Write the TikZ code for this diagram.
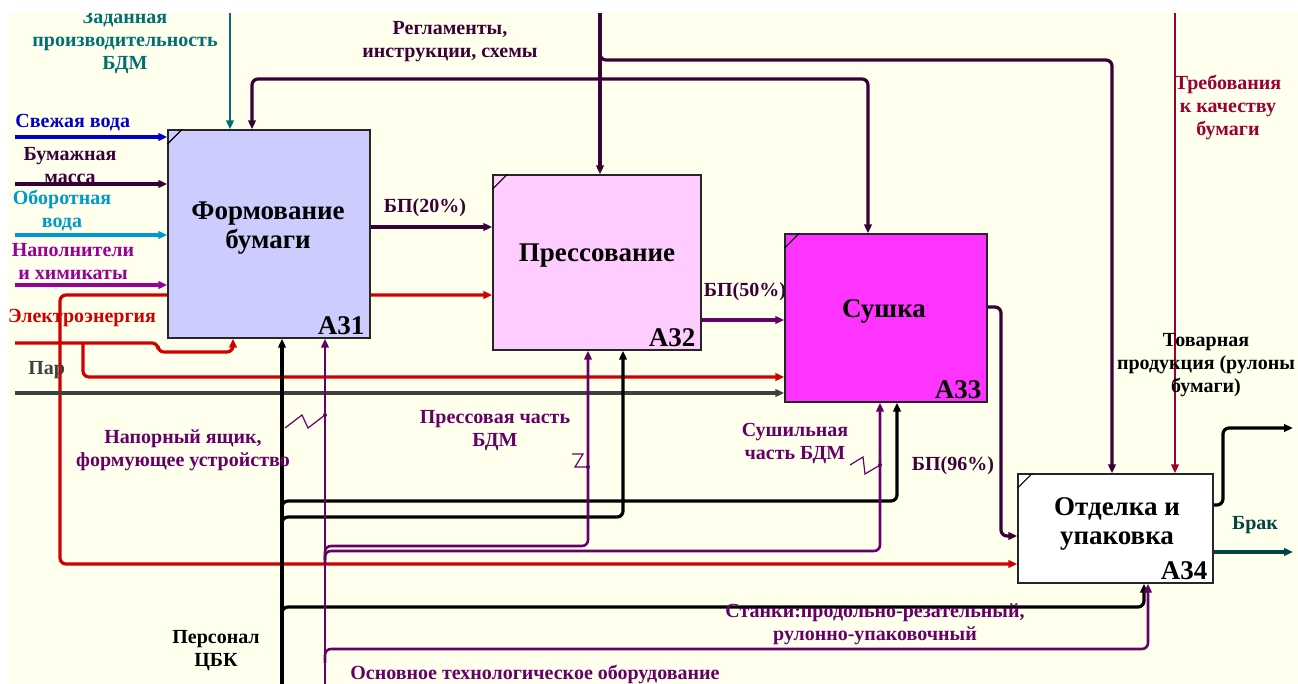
\documentclass[tikz,border=0pt]{standalone}
\usepackage{fontspec}
\setmainfont{Liberation Serif}
\usetikzlibrary{arrows.meta,calc}
\pgfdeclarelayer{bg}
\pgfdeclarelayer{wires}
\pgfdeclarelayer{top}
\pgfsetlayers{bg,wires,main,top}

\definecolor{paper}{HTML}{FFFFEE}
\definecolor{cTeal}{HTML}{007070}
\definecolor{cPlum}{HTML}{3A0038}
\definecolor{cBlue}{HTML}{0000CC}
\definecolor{cCyan}{HTML}{0099CC}
\definecolor{cViolet}{HTML}{990099}
\definecolor{cRed}{HTML}{D00000}
\definecolor{cGray}{HTML}{404040}
\definecolor{cMech}{HTML}{660066}
\definecolor{cCrimson}{HTML}{990033}
\definecolor{cReject}{HTML}{004444}
\definecolor{fillA}{HTML}{CCCCFF}
\definecolor{fillB}{HTML}{FFCCFF}
\definecolor{fillC}{HTML}{FF33FF}

\tikzset{
  tip/.tip={Triangle[length=4.5pt,width=3.8pt]},
  wire/.style={line width=1.6pt, rounded corners=3pt},
  arrowwire/.style={wire, -tip},
  thinwire/.style={line width=1.1pt, rounded corners=3pt},
  thinarrow/.style={thinwire, -tip},
  func/.style={draw=black!85, line width=0.7pt, inner sep=0pt},
  ttl/.style={font=\fontsize{13.5}{14.5}\selectfont\bfseries, align=center, inner sep=0pt},
  num/.style={font=\fontsize{13.5}{14}\selectfont\bfseries, inner sep=0pt, anchor=south east},
  lbl/.style={font=\fontsize{10}{11.5}\selectfont\bfseries, align=center, inner sep=0pt},
  zig/.style={line width=0.6pt, cMech},
}

\begin{document}
\begin{tikzpicture}[x=0.5pt, y=-0.5pt]
\useasboundingbox (0,0) rectangle (1298,684);
\begin{pgfonlayer}{bg}
  \fill[white] (0,0) rectangle (1298,684);
  \fill[paper] (8,13) rectangle (1298,684);
\end{pgfonlayer}

% function boxes
\node[func, fill=fillA, minimum width=101pt, minimum height=104pt] (A31) at (269,234) {};
\node[func, fill=fillB, minimum width=104pt, minimum height=87.5pt] (A32) at (597,262.5) {};
\node[func, fill=fillC, minimum width=101pt, minimum height=84pt] (A33) at (886,318) {};
\node[func, fill=white, minimum width=97.5pt, minimum height=54.5pt] (A34) at (1115.5,528.5) {};
\foreach \b in {A31,A32,A33,A34}
  \draw[line width=0.6pt] (\b.north west) ++(0,15) -- ++(15,-15);

\node[ttl] (t31) at (268,228) {Формование\\бумаги};
\node[ttl] (t32) at (597,256) {Прессование};
\node[ttl] (t33) at (884,311) {Сушка};
\node[ttl] (t34) at (1117,524) {Отделка и\\упаковка};
\node[num] (n31) at ($(A31.south east)+(-6,-4)$) {A31};
\node[num] (n32) at ($(A32.south east)+(-6,-4)$) {A32};
\node[num] (n33) at ($(A33.south east)+(-6,-4)$) {A33};
\node[num] (n34) at ($(A34.south east)+(-6,-4)$) {A34};

% free ends and bends
\coordinate (cRate) at (230,13);
\coordinate (cRules) at (600,13);
\coordinate (jRules) at (600,79);
\coordinate (jRulesB) at (600,48);
\coordinate (cQuality) at (1175,13);
\coordinate (iWater) at (15,137);
\coordinate (iPulp) at (15,184);
\coordinate (iBack) at (15,235);
\coordinate (iFill) at (15,285);
\coordinate (iPower) at (15,343);
\coordinate (iSteam) at (15,393);
\coordinate (jPowA) at (60,343);
\coordinate (jPowB) at (83,343);
\coordinate (oGoods) at (1293,428);
\coordinate (oReject) at (1293,552);
\coordinate (mStaff) at (282,684);
\coordinate (mEquip) at (325,684);

\begin{pgfonlayer}{wires}
  % controls
  \draw[thinarrow, cTeal] (cRate) -- (cRate |- A31.north);
  \draw[arrowwire, cPlum] (cRules) -- (cRules |- A32.north);
  \draw[arrowwire, cPlum] (jRules) -- (252,79) -- (252,79 |- A31.north);
  \draw[arrowwire, cPlum] (jRules) -- (868,79) -- (868,79 |- A33.north);
  \draw[arrowwire, cPlum] (jRulesB) -- (600,60) -- (1112,60) -- (1112,60 |- A34.north);
  \draw[thinarrow, cCrimson] (cQuality) -- (cQuality |- A34.north);

  % inputs
  \draw[arrowwire, cBlue] (iWater) -- (iWater -| A31.west);
  \draw[arrowwire, cPlum] (iPulp) -- (iPulp -| A31.west);
  \draw[arrowwire, cCyan] (iBack) -- (iBack -| A31.west);
  \draw[arrowwire, cViolet] (iFill) -- (iFill -| A31.west);
  \draw[arrowwire, cRed] (iPower) -- (158,343) -- (158,352) -- (233,352) -- (233,352 |- A31.south);
  \draw[arrowwire, cRed] (jPowA) -- (60,295) -- (60,295 -| A32.west);
  \draw[arrowwire, cRed] (jPowA) -- (60,564) -- (60,564 -| A34.west);
  \draw[arrowwire, cRed] (jPowB) -- (83,377) -- (83,377 -| A33.west);
  \draw[arrowwire, cGray] (iSteam) -- (iSteam -| A33.west);

  % outputs
  \draw[arrowwire, cPlum] (A31.east |- 0,227) -- (A32.west |- 0,227);
  \draw[arrowwire, cMech] (A32.east |- 0,320) -- (A33.west |- 0,320);
  \draw[arrowwire, cPlum] (A33.east |- 0,307) -- (1001,307) -- (1001,536) -- (A34.west |- 0,536);
  \draw[arrowwire, black] (A34.east |- 0,505) -- (1223,505) -- (1223,428) -- (oGoods);
  \draw[arrowwire, cReject] (A34.east |- 0,552) -- (oReject);

  % mechanisms
  \draw[arrowwire, black] (mStaff) -- (mStaff |- A31.south);
  \draw[arrowwire, black] (282,515) -- (282,501) -- (897,501) -- (897,501 |- A33.south);
  \draw[arrowwire, black] (282,531) -- (282,517) -- (623,517) -- (623,517 |- A32.south);
  \draw[arrowwire, black] (282,621) -- (282,607) -- (1144,607) -- (1144,607 |- A34.south);
  \draw[thinarrow, cMech] (mEquip) -- (mEquip |- A31.south);
  \draw[thinarrow, cMech, line width=1.3pt] (325,560) -- (325,546) -- (588,546) -- (588,546 |- A32.south);
  \draw[thinarrow, cMech, line width=1.3pt] (325,565) -- (325,551) -- (880,551) -- (880,551 |- A33.south);
  \draw[thinarrow, cMech, line width=1.3pt] (325,663) -- (325,649) -- (1148,649) -- (1148,649 |- A34.south);

  % squiggles tying labels to their arrows
  \draw[zig] (285,428) -- (302,415) -- (308,428) -- (325,415);
  \fill[cMech] (325,415) circle (2);
  \draw[zig] (572,454) -- (583,454) -- (575,467) -- (588,467);
  \fill[cMech] (588,467) circle (2);
  \draw[zig] (850,465) -- (863,457) -- (865,474) -- (880,465);
  \fill[cMech] (880,465) circle (2);
\end{pgfonlayer}

% labels
\node[lbl, text=cTeal] (lRate) at (125,42) {Заданная\\производительность\\БДМ};
\node[lbl, text=cPlum] (lRules) at (450,42) {Регламенты,\\инструкции, схемы};
\node[lbl, text=cCrimson] (lQuality) at (1228,108) {Требования\\к качеству\\бумаги};
\node[lbl, text=cBlue, anchor=west] (lWater) at (15,123) {Свежая вода};
\node[lbl, text=cPlum] (lPulp) at (70,166) {Бумажная\\масса};
\node[lbl, text=cCyan] (lBack) at (62,211) {Оборотная\\вода};
\node[lbl, text=cViolet] (lFill) at (73,262) {Наполнители\\и химикаты};
\node[lbl, text=cRed] (lPower) at (82,318) {Электроэнергия};
\node[lbl, text=cGray, anchor=west] (lSteam) at (28,370) {Пар};
\node[lbl, text=cPlum] (l20) at (425,208) {БП(20\%)};
\node[lbl, text=cPlum] (l50) at (745,292) {БП(50\%)};
\node[lbl, text=cPlum] (l96) at (953,466) {БП(96\%)};
\node[lbl, text=black] (lGoods) at (1206,365) {Товарная\\продукция (рулоны\\бумаги)};
\node[lbl, text=cReject] (lReject) at (1255,525) {Брак};
\node[lbl, text=cMech] (lBox) at (183,450) {Напорный ящик,\\формующее устройство};
\node[lbl, text=cMech] (lPress) at (495,431) {Прессовая часть\\БДМ};
\node[lbl, text=cMech] (lDry) at (795,444) {Сушильная\\часть БДМ};
\node[lbl, text=black] (lStaff) at (216,651) {Персонал\\ЦБК};
\node[lbl, text=cMech] (lEquip) at (535,675) {Основное технологическое оборудование};
\node[lbl, text=cMech] (lTools) at (875,624) {Станки:продольно-резательный,\\рулонно-упаковочный};

\begin{pgfonlayer}{top}
  \fill[white] (0,0) rectangle (1298,13);
  \fill[white] (0,0) rectangle (8,684);
\end{pgfonlayer}
\end{tikzpicture}
\end{document}
